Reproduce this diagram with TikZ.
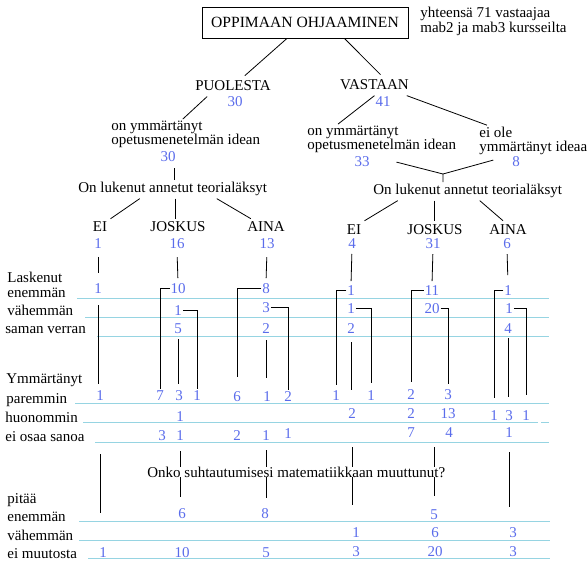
\documentclass[tikz,border=0pt]{standalone}
\usepackage{fontspec}
\setmainfont{Liberation Serif}
\definecolor{numblue}{RGB}{90,108,235}
\definecolor{rowrule}{RGB}{150,212,226}

\begin{document}
\begin{tikzpicture}[x=1pt, y=-1pt, line width=0.8pt,
    every node/.style={font=\fontsize{15}{14}\selectfont},
    head/.style={anchor=base, inner sep=3pt},
    lbl/.style={anchor=base west, inner sep=2pt, align=left},
    rowlbl/.style={anchor=base west, inner sep=0pt},
    num/.style={anchor=base, text=numblue, inner sep=0pt, outer sep=1pt},
    link/.style={shorten <=5pt, shorten >=5pt},
    rowline/.style={draw=rowrule, line width=0.8pt}]
				\useasboundingbox (0,0) rectangle (587,567);

				% rules of the table
				\draw[rowline] (77,298) -- (549,298);
				\draw[rowline] (85,317) -- (549,317);
				\draw[rowline] (97,336) -- (549,336);
				\draw[rowline] (75,403) -- (549,403);
				\draw[rowline] (83,422) -- (538,422);
				\draw[rowline] (541,422) -- (549,422);
				\draw[rowline] (95,442) -- (549,442);
				\draw[rowline] (79,521) -- (550,521);
				\draw[rowline] (79,540) -- (550,540);
				\draw[rowline] (88,558) -- (550,558);

				% top of the tree
				\node[draw, minimum width=206pt, minimum height=31pt, inner sep=0pt, font=\fontsize{15.6}{14}\selectfont] (ohj) at (305,22.5) {OPPIMAAN OHJAAMINEN};
				\node[lbl, inner sep=0pt] (yht) at (420,33) {yhteensä 71 vastaajaa\\[1pt]mab2 ja mab3 kursseilta};

				\node[head, inner sep=5pt] (puolesta) at (233,91) {PUOLESTA};
				\node[num] (p30) at (235,107) {30};
				\node[head, inner sep=5pt] (vastaan) at (374.5,90) {VASTAAN};
				\node[num] (v41) at (383,107) {41};

				\node[lbl] (pymm) at (109,145) {on ymmärtänyt\\opetusmenetelmän idean};
				\node[num] (pymm30) at (168,162) {30};
				\node[lbl] (vymm) at (305,150) {on ymmärtänyt\\opetusmenetelmän idean};
				\node[num] (vymm33) at (362,167) {33};
				\node[lbl] (veiole) at (477,152) {ei ole\\ymmärtänyt ideaa};
				\node[num] (veiole8) at (516,167) {8};

				\node[lbl] (pluk) at (76,193) {On lukenut annetut teorialäksyt};
				\node[lbl] (vluk) at (371,195) {On lukenut annetut teorialäksyt};

				\node[head] (pEI) at (100,232) {EI};
				\node[head] (pJO) at (178,232) {JOSKUS};
				\node[head] (pAI) at (266,232) {AINA};
				\node[head] (vEI) at (354,234) {EI};
				\node[head] (vJO) at (435,234) {JOSKUS};
				\node[head] (vAI) at (508,234) {AINA};

				\draw (ohj) -- (puolesta);
				\draw (ohj.-22) -- (vastaan.60);
				\draw (puolesta.-158) -- ([xshift=-3pt]pymm.north);
				\draw (vastaan.south) -- ([xshift=33pt]vymm.north west);
				\draw (vastaan.-18) -- ([xshift=10pt]veiole.north west);

				\draw[shorten <=5pt] ([xshift=6pt]pymm30.south) -- ([xshift=6pt]pymm30.south |- pluk.north);
				\coordinate (vjoin) at (443,174);
				\draw ([xshift=26pt]vymm33.east) -- (vjoin) -- (vjoin |- vluk.north);
				\draw ([xshift=-18pt, yshift=2pt]veiole8.west) -- (vjoin);

				\draw ([xshift=-33pt]pluk.south) -- (pEI.north east);
				\draw ([xshift=3pt]pluk.south) -- ([xshift=3pt]pluk.south |- pJO.north);
				\draw ([xshift=44pt]pluk.south) -- ([xshift=7pt]pAI.north west);
				\draw ([xshift=-70pt]vluk.south) -- (vEI.north east);
				\draw ([xshift=-33pt]vluk.south) -- ([xshift=-33pt]vluk.south |- vJO.north);
				\draw ([xshift=12pt]vluk.south) -- ([xshift=-5pt]vAI.north);

				% counts of the groups
				\node[num] (pEIn) at (98,249) {1};
				\node[num] (pJOn) at (177,249) {16};
				\node[num] (pAIn) at (267,249) {13};
				\node[num] (vEIn) at (352,248) {4};
				\node[num] (vJOn) at (433,248) {31};
				\node[num] (vAIn) at (507,248) {6};

				% Laskenut
				\node[rowlbl] (lLask) at (7,282) {Laskenut};
				\node[rowlbl] (lLenem) at (7,297) {enemmän};
				\node[rowlbl] (lLvah) at (7,315) {vähemmän};
				\node[rowlbl] (lLsam) at (5,333) {saman verran};

				\node[num] (pEIle) at (98,293) {1};
				\node[num] (pJOle) at (178,293) {10};
				\node[num] (pAIle) at (266,293) {8};
				\node[num] (vEIle) at (351,295) {1};
				\node[num] (vJOle) at (432,295) {11};
				\node[num] (vAIle) at (508,295) {1};

				\node[num] (pJOlv) at (178,315) {1};
				\node[num] (pAIlv) at (266,312) {3};
				\node[num] (vEIlv) at (351,313) {1};
				\node[num] (vJOlv) at (432,313) {20};
				\node[num] (vAIlv) at (509,313) {1};

				\node[num] (pJOls) at (178,333) {5};
				\node[num] (pAIls) at (266,333) {2};
				\node[num] (vEIls) at (351,333) {2};
				\node[num] (vAIls) at (508,333) {4};

				% Ymmärtänyt
				\node[rowlbl] (lYmm) at (6,383) {Ymmärtänyt};
				\node[rowlbl] (lYpar) at (6,403) {paremmin};
				\node[rowlbl] (lYhuo) at (5,422) {huonommin};
				\node[rowlbl] (lYeos) at (5,441) {ei osaa sanoa};

				\node[num] (pEIyp) at (100,400) {1};
				\node[num] (pJOyp7) at (160,400) {7};
				\node[num] (pJOyp3) at (179,400) {3};
				\node[num] (pJOyp1) at (197,400) {1};
				\node[num] (pAIyp6) at (237,401) {6};
				\node[num] (pAIyp1) at (267,401) {1};
				\node[num] (pAIyp2) at (288,401) {2};
				\node[num] (vEIyp1) at (336,400) {1};
				\node[num] (vEIyp1b) at (371,400) {1};
				\node[num] (vJOyp2) at (411,399) {2};
				\node[num] (vJOyp3) at (448,399) {3};

				\node[num] (pJOyh) at (180,421) {1};
				\node[num] (vEIyh) at (352,418) {2};
				\node[num] (vJOyh2) at (411,418) {2};
				\node[num] (vJOyh13) at (448,418) {13};
				\node[num] (vAIyh1) at (494,420) {1};
				\node[num] (vAIyh3) at (509,420) {3};
				\node[num] (vAIyh1b) at (526,420) {1};

				\node[num] (pJOye3) at (162,440) {3};
				\node[num] (pJOye1) at (180,440) {1};
				\node[num] (pAIye2) at (237,440) {2};
				\node[num] (pAIye1) at (266,440) {1};
				\node[num] (pAIye1b) at (288,438) {1};
				\node[num] (vJOye7) at (411,437) {7};
				\node[num] (vJOye4) at (449,437) {4};
				\node[num] (vAIye1) at (509,437) {1};

				% pitää matematiikkaa
				\node[rowlbl] (lPit) at (7,503) {pitää};
				\node[rowlbl] (lPenem) at (7,521) {enemmän};
				\node[rowlbl] (lPvah) at (7,540) {vähemmän};
				\node[rowlbl] (lPeim) at (7,558) {ei muutosta};

				\node[num] (pJOpe) at (182,518) {6};
				\node[num] (pAIpe) at (265,518) {8};
				\node[num] (vJOpe) at (434,519) {5};
				\node[num] (vEIpv) at (356,537) {1};
				\node[num] (vJOpv) at (435,537) {6};
				\node[num] (vAIpv) at (513,537) {3};
				\node[num] (pEIpm) at (103,557) {1};
				\node[num] (pJOpm) at (182,557) {10};
				\node[num] (pAIpm) at (266,557) {5};
				\node[num] (vEIpm) at (356,556) {3};
				\node[num] (vJOpm) at (435,556) {20};
				\node[num] (vAIpm) at (513,556) {3};

				% columns
				\draw[shorten <=7pt, shorten >=9pt] (pEIn.south) -- (pEIle.north);
				\draw[shorten <=7pt, shorten >=4pt] (pJOn.south) -- (pJOle.north);
				\draw[shorten <=7pt, shorten >=4pt] (pAIn.south) -- (pAIle.north);
				\draw[shorten <=5pt, shorten >=3pt] (vEIn.south) -- (vEIle.north);
				\draw[shorten <=5pt, shorten >=3pt] (vJOn.south) -- (vJOle.north);
				\draw[shorten <=5pt, shorten >=9pt] (vAIn.south) -- (vAIle.north);

				\draw[shorten <=11pt, shorten >=5pt] (pEIle.south) -- (pEIle.south |- pEIyp.north);
				\draw[link] (pJOls.south) -- (pJOls.south |- pJOyp3.north);
				\draw[shorten <=6pt, shorten >=12pt] (pAIls.south) -- (pAIls.south |- pAIyp1.north);
				\draw[shorten <=8pt, shorten >=17pt] (vEIls.south) -- (vEIls.south |- vEIyh.north);
				\draw[shorten <=4pt, shorten >=12pt] (vAIls.south) -- (vAIls.south |- vAIyh3.north);

				\draw (pJOle.west) -| (pJOyp7.north);
				\draw (pJOlv.east) -| (pJOyp1.north);
				\draw[shorten >=13pt] (pAIle.west) -| (pAIyp6.north);
				\draw (pAIlv.east) -| (pAIyp2.north);
				\draw[shorten >=4pt] (vEIle.west) -| (vEIyp1.north);
				\draw[shorten >=6pt] (vEIlv.east) -| (vEIyp1b.north);
				\draw[shorten >=6pt] (vJOle.west) -| (vJOyp2.north);
				\draw[shorten >=4pt] (vJOlv.east) -| (vJOyp3.north);
				\draw[shorten >=11pt] (vAIle.west) -| (vAIyh1.north);
				\draw[shorten >=14pt] (vAIlv.east) -| (vAIyh1b.north);

				\draw[shorten <=53pt, shorten >=33pt] (pEIyp.south) -- (pEIyp.south |- pEIpm.north);
				\draw[shorten <=10pt, shorten >=10pt] (pJOye1.south) -- (pJOye1.south |- pJOpe.north);
				\draw[shorten <=9pt, shorten >=9pt] (pAIye1.south) -- (pAIye1.south |- pAIpe.north);
				\draw[shorten <=28pt, shorten >=21pt] (vEIyh.south) -- (vEIyh.south |- vEIpv.north);
				\coordinate (vJOq) at (434,447);
				\draw[shorten >=12pt] (vJOq) -- (vJOq |- vJOpe.north);
				\draw[shorten <=14pt, shorten >=19pt] (vAIye1.south) -- (vAIye1.south |- vAIpv.north);

				\node[rowlbl, fill=white] (onko) at (147,477) {Onko suhtautumisesi matematiikkaan muuttunut?};
\end{tikzpicture}
\end{document}
